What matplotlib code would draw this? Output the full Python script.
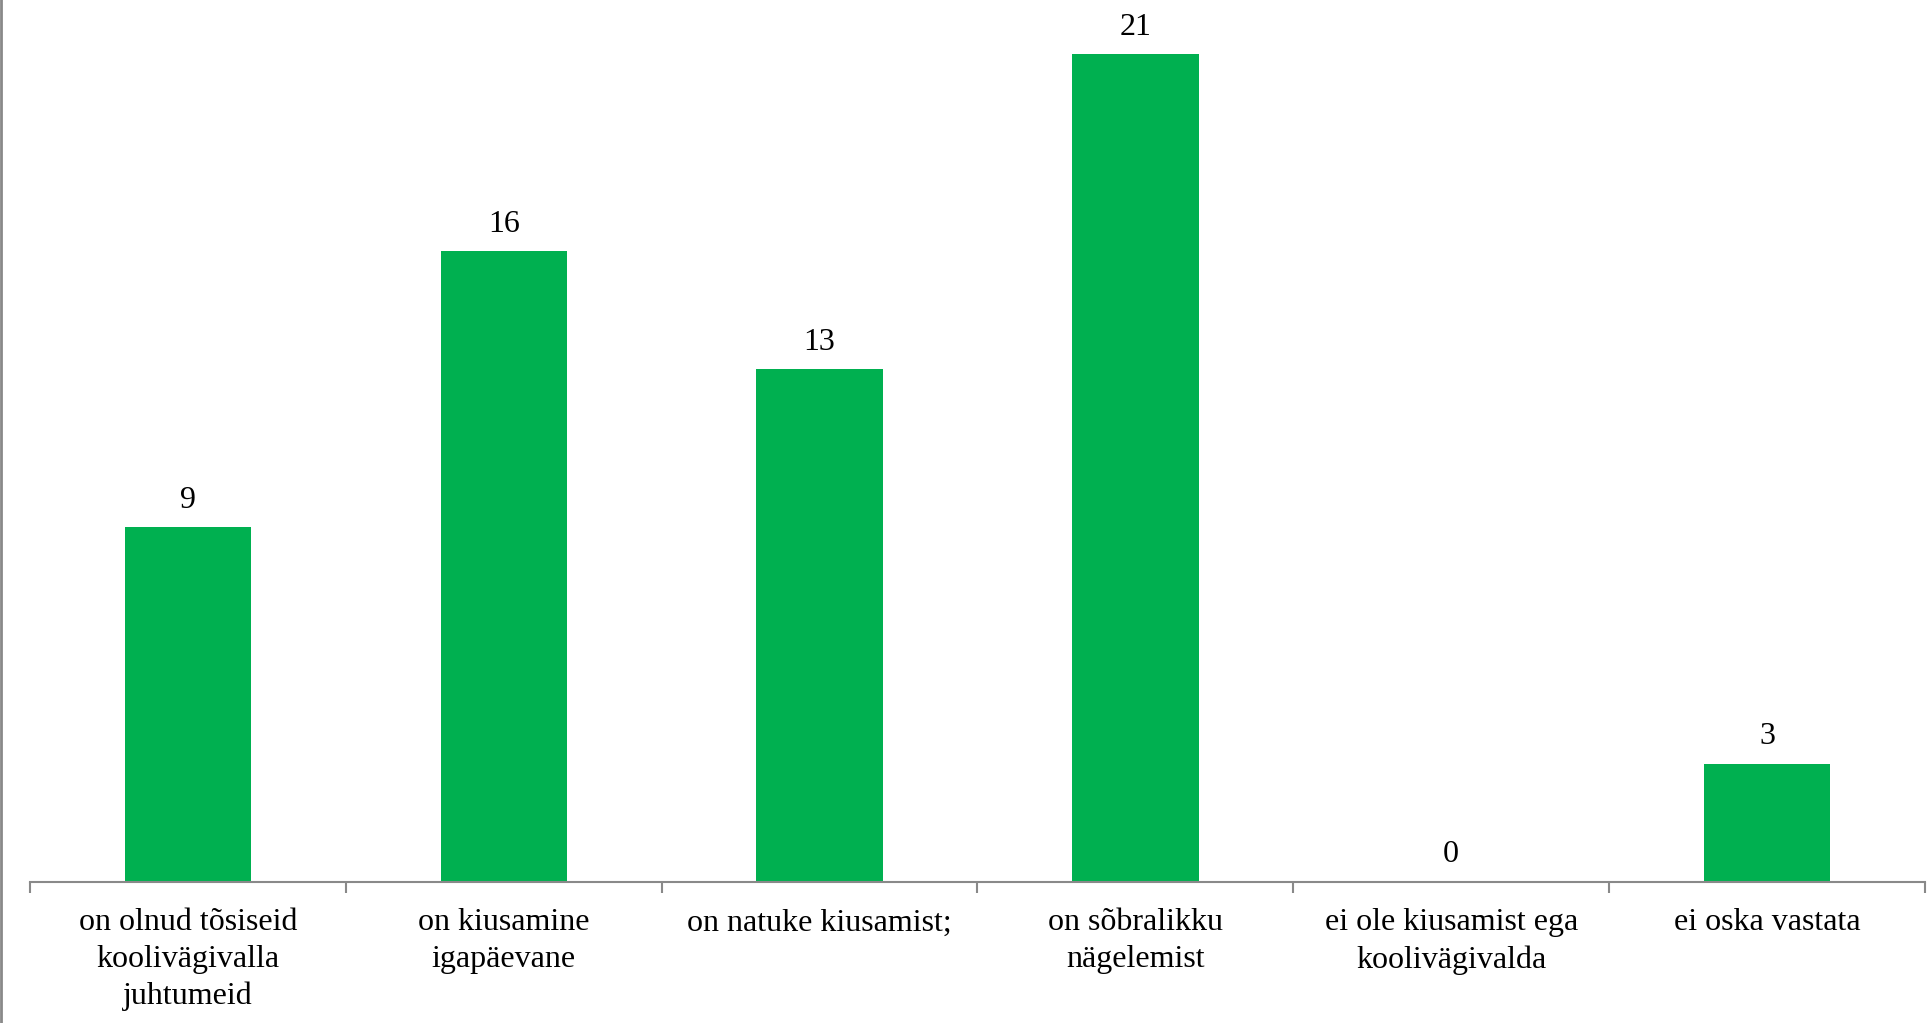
import numpy as np
import matplotlib.pyplot as plt
from matplotlib.lines import Line2D

categories = ["on olnud tõsiseid\nkoolivägivalla\njuhtumeid",
              "on kiusamine\nigapäevane",
              "on natuke kiusamist;",
              "on sõbralikku\nnägelemist",
              "ei ole kiusamist ega\nkoolivägivalda",
              "ei oska vastata"]
values = [9, 16, 13, 21, 0, 3]

plt.rcParams['font.family'] = ['Liberation Serif', 'DejaVu Serif']

W, H = 1931, 1023
fig = plt.figure(figsize=(W / 100, H / 100), dpi=100)
# axes spans x 30..1925, y 0..882 (pixels from top)
ax = fig.add_axes([30 / W, 1 - 882 / H, (1925 - 30) / W, 882 / H])

x = np.arange(len(values))
ax.bar(x, values, width=0.4, color='#00B050')
ax.set_xlim(-0.5, len(values) - 0.5)
ax.set_ylim(0, 882 / (828 / 21))

for xi, v in zip(x, values):
    ax.annotate(str(v), (xi, v), xytext=(0, 9), textcoords='offset points',
                ha='center', va='bottom', fontsize=23)

for s in ['top', 'right', 'left']:
    ax.spines[s].set_visible(False)
ax.spines['bottom'].set_color('#898989')
ax.spines['bottom'].set_linewidth(1.5)
ax.set_yticks([])

ax.set_xticks(np.arange(len(values) + 1) - 0.5, minor=True)
ax.tick_params(axis='x', which='minor', length=8, width=1.5, color='#898989')
ax.set_xticks(x)
ax.set_xticklabels(categories, fontsize=23, linespacing=1.34)
ax.tick_params(axis='x', which='major', length=0, pad=19)

# chart border on the left edge
fig.add_artist(Line2D([1.5 / W, 1.5 / W], [0, 1], color='#898989', lw=2))

fig.savefig('out.png', dpi=100)
